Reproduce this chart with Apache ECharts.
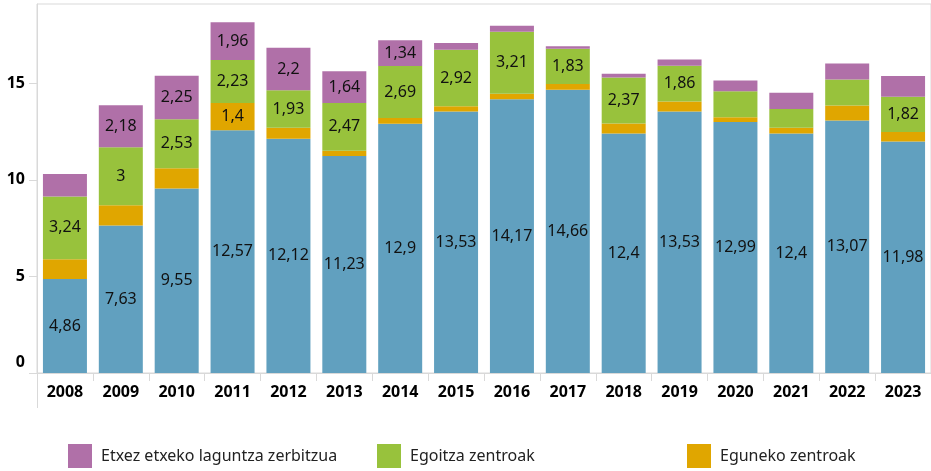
<!DOCTYPE html>
<html>
<head>
<meta charset="utf-8">
<script src="https://cdn.jsdelivr.net/npm/echarts@6/dist/echarts.min.js"></script>
<style>
html,body{margin:0;padding:0;background:#fff;}
#chart{width:931px;height:471px;}
</style>
</head>
<body>
<div id="chart"></div>
<script>
const years = ['2008','2009','2010','2011','2012','2013','2014','2015','2016','2017','2018','2019','2020','2021','2022','2023'];
const yTicks = [0, 5, 10, 15];

const baseName = 'Prestazio ekonomikoak';
const baseValues = [4.86, 7.63, 9.55, 12.57, 12.12, 11.23, 12.9, 13.53, 14.17, 14.66, 12.4, 13.53, 12.99, 12.4, 13.07, 11.98];
const dayName = 'Eguneko zentroak';
const dayValues = [1.03, 1.05, 1.05, 1.4, 0.58, 0.28, 0.3, 0.28, 0.28, 0.3, 0.52, 0.52, 0.25, 0.3, 0.77, 0.5];
const resName = 'Egoitza zentroak';
const resValues = [3.24, 3, 2.53, 2.23, 1.93, 2.47, 2.69, 2.92, 3.21, 1.83, 2.37, 1.86, 1.35, 0.97, 1.35, 1.82];
const homeName = 'Etxez etxeko laguntza zerbitzua';
const homeValues = [1.17, 2.18, 2.25, 1.96, 2.2, 1.64, 1.34, 0.35, 0.31, 0.12, 0.2, 0.32, 0.55, 0.83, 0.83, 1.07];

// years whose value label is printed
const baseLabelYears = years.slice();
const dayLabelYears = ['2011'];
const resLabelYears = ['2008','2009','2010','2011','2012','2013','2014','2015','2016','2017','2018','2019','2023'];
const homeLabelYears = ['2009','2010','2011','2012','2013','2014'];

const colors = { base: '#61A0BF', day: '#E0A600', res: '#98C23C', home: '#B070A8' };
const FONT = "'Noto Sans', 'Open Sans', sans-serif";

function fmt(v){ return String(v).replace('.', ','); }
function makeData(values, labelYears){
  return values.map((v, i) => ({ value: v, label: { show: labelYears.indexOf(years[i]) >= 0 } }));
}
function barSeries(name, values, labelYears, color){
  return {
    name: name, type: 'bar', stack: 'total', barWidth: 44,
    itemStyle: { color: color },
    label: { position: 'inside', color: '#111', fontSize: 16, fontFamily: FONT,
             formatter: p => fmt(p.value) },
    emphasis: { disabled: true },
    data: makeData(values, labelYears)
  };
}

const chart = echarts.init(document.getElementById('chart'), null, { renderer: 'canvas' });
const legendBase = {
  orient: 'horizontal', top: 444, itemWidth: 24, itemHeight: 24, icon: 'rect', padding: 0,
  selectedMode: false,
  textStyle: { fontFamily: FONT, fontSize: 16, color: '#222', padding: [0, 0, 0, 4] }
};
chart.setOption({
  animation: false,
  color: [colors.base, colors.day, colors.res, colors.home],
  grid: { left: 37, right: -6, top: 4, bottom: 98, show: true, borderColor: '#D9D9D9', borderWidth: 1, containLabel: false },
  legend: [
    Object.assign({}, legendBase, { left: 68, data: [homeName] }),
    Object.assign({}, legendBase, { left: 377, data: [resName] }),
    Object.assign({}, legendBase, { left: 687, data: [dayName] })
  ],
  xAxis: {
    type: 'category', data: years,
    axisLine: { show: true, lineStyle: { color: '#D9D9D9', width: 1 } },
    axisTick: { show: true, length: 8, alignWithLabel: false, lineStyle: { color: '#D9D9D9' } },
    axisLabel: { color: '#000', fontWeight: 'bold', fontSize: 16, fontFamily: FONT, margin: 11, interval: 0 }
  },
  yAxis: {
    type: 'value', min: 0, max: 19.1, interval: 5,
    axisLine: { show: true, lineStyle: { color: '#D9D9D9', width: 1 } },
    axisTick: { show: true, length: 8, customValues: yTicks, lineStyle: { color: '#D9D9D9' } },
    splitLine: { show: false },
    axisLabel: {
      customValues: yTicks, color: '#000', fontWeight: 'bold', fontSize: 16, fontFamily: FONT, margin: 12,
      formatter: v => v === 0 ? '{z|0}' : String(v),
      rich: { z: { fontWeight: 'bold', fontSize: 16, fontFamily: FONT, color: '#000', padding: [0, 0, 22, 0] } }
    }
  },
  graphic: [{
    type: 'line', shape: { x1: 37.5, y1: 373, x2: 37.5, y2: 408 },
    style: { stroke: '#D9D9D9', lineWidth: 1 }, silent: true
  }],
  series: [
    barSeries(baseName, baseValues, baseLabelYears, colors.base),
    barSeries(dayName, dayValues, dayLabelYears, colors.day),
    barSeries(resName, resValues, resLabelYears, colors.res),
    barSeries(homeName, homeValues, homeLabelYears, colors.home)
  ]
});
</script>
</body>
</html>
